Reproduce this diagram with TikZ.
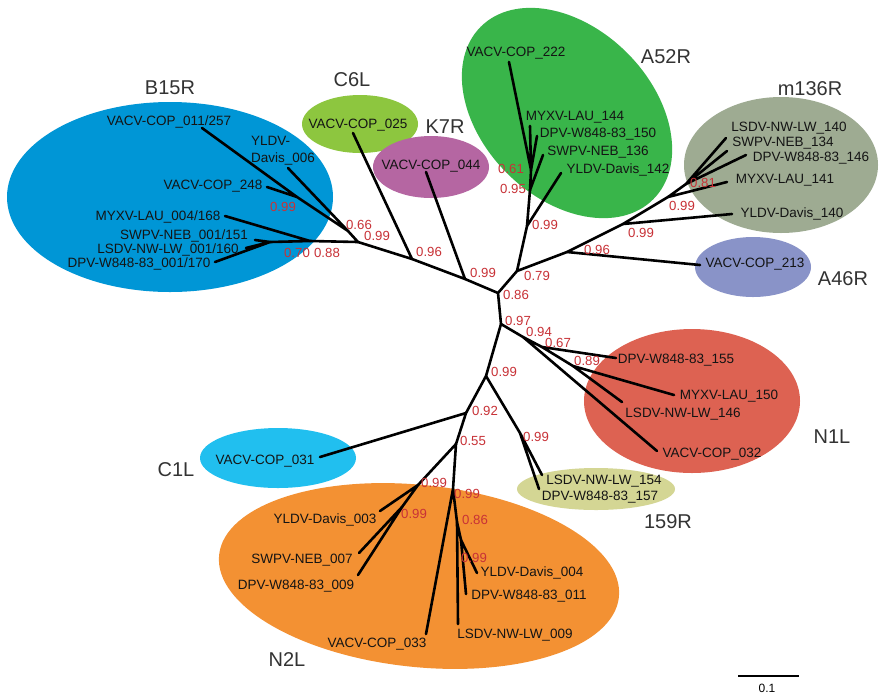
\documentclass[tikz,border=0pt]{standalone}
\usepackage{fontspec}
\setmainfont{Liberation Sans}
\definecolor{cB}{RGB}{0,150,214}
\definecolor{cC6}{RGB}{141,198,63}
\definecolor{cK7}{RGB}{181,102,162}
\definecolor{cA52}{RGB}{57,181,74}
\definecolor{cM136}{RGB}{158,171,146}
\definecolor{cA46}{RGB}{137,147,200}
\definecolor{cN1}{RGB}{221,98,82}
\definecolor{c159}{RGB}{212,214,148}
\definecolor{cC1}{RGB}{33,191,239}
\definecolor{cN2}{RGB}{243,145,51}
\definecolor{supred}{RGB}{200,50,55}
\tikzset{
  br/.style={line width=2.6pt, line cap=round, black},
  leaf/.style={inner sep=0pt, font=\fontsize{13.5}{15}\selectfont, text=black!92, text height=9.7pt, text depth=0pt},
  bsup/.style={inner sep=0pt, font=\fontsize{13.2}{14}\selectfont, text=supred, text height=9.4pt, text depth=0pt},
  clab/.style={inner sep=0pt, font=\fontsize{20}{22}\selectfont, text=black!80, text height=14.3pt, text depth=0pt},
}
\begin{document}
\begin{tikzpicture}[x=1pt,y=-1pt]
\useasboundingbox[fill=white] (0,0) rectangle (885,694);
% ellipses
\fill[cB] (170,197) ellipse [x radius=163pt, y radius=95pt];
\fill[cC6] (360,124) ellipse [x radius=58pt, y radius=29pt];
\fill[cK7] (431,167) ellipse [x radius=58pt, y radius=31pt];
\fill[cA52, rotate around={-45:(567,113)}] (567,113) ellipse [x radius=122pt, y radius=85pt];
\fill[cM136] (781,165) ellipse [x radius=97pt, y radius=68pt];
\fill[cA46] (753,267) ellipse [x radius=58pt, y radius=30pt];
\fill[cN1] (692,401) ellipse [x radius=108pt, y radius=72pt];
\fill[c159] (596,489) ellipse [x radius=79pt, y radius=21pt];
\fill[cC1] (278,458) ellipse [x radius=78pt, y radius=30pt];
\fill[cN2, rotate around={-6:(419,576)}] (419,576) ellipse [x radius=201pt, y radius=91pt];
% internal nodes
\coordinate (A) at (498,293);
\coordinate (B) at (501,324);
\coordinate (C) at (517,271);
\coordinate (D) at (527,226);
\coordinate (E) at (465,279);
\coordinate (F) at (412,259);
\coordinate (G) at (358,242);
\coordinate (H) at (348,231);
\coordinate (I) at (297,197);
\coordinate (J) at (310,241);
\coordinate (K) at (270,242);
\coordinate (L) at (531,170);
\coordinate (M) at (530,190);
\coordinate (Q) at (567,252);
\coordinate (P) at (623,224);
\coordinate (O) at (668,197);
\coordinate (N) at (686,184);
\coordinate (S) at (523,337);
\coordinate (T) at (542,347);
\coordinate (U) at (573,366);
\coordinate (R) at (486,376);
\coordinate (W) at (520,433);
\coordinate (V) at (466,413);
\coordinate (X) at (456,444);
\coordinate (Y) at (418,485);
\coordinate (Y2) at (402,507);
\coordinate (Z) at (453,489);
\coordinate (Z2) at (457,522);
\coordinate (Z3) at (461,540);
% tips
\coordinate (b1) at (202,128);
\coordinate (b2) at (288,168);
\coordinate (b3) at (267,187);
\coordinate (b4) at (225,216);
\coordinate (b5) at (255,240);
\coordinate (b6) at (246,248);
\coordinate (b7) at (215,262);
\coordinate (c6) at (353,133);
\coordinate (k7) at (426,172);
\coordinate (a1) at (509,62);
\coordinate (a2) at (530,126);
\coordinate (a3) at (537,136);
\coordinate (a4) at (543,155);
\coordinate (a5) at (561,173);
\coordinate (m1) at (726,138);
\coordinate (m2) at (727,151);
\coordinate (m3) at (746,155);
\coordinate (m4) at (727,182);
\coordinate (m5) at (732,214);
\coordinate (a46) at (700,265);
\coordinate (n1) at (616,358);
\coordinate (n2) at (674,395);
\coordinate (n3) at (622,402);
\coordinate (n4) at (657,451);
\coordinate (r1) at (542,475);
\coordinate (r2) at (539,489);
\coordinate (c1) at (320,457);
\coordinate (o1) at (380,511);
\coordinate (o2) at (359,553);
\coordinate (o3) at (358,575);
\coordinate (o4) at (426,634);
\coordinate (o5) at (458,624);
\coordinate (o6) at (477,573);
\coordinate (o7) at (466,594);
% branches
\draw[br] (A)--(B) (A)--(C) (A)--(E);
\draw[br] (E)--(F) (E)--(k7);
\draw[br] (F)--(G) (F)--(c6);
\draw[br] (G)--(H) (G)--(J);
\draw[br] (H)--(I) (H)--(b2);
\draw[br] (I)--(b1) (I)--(b3);
\draw[br] (J)--(b4) (J)--(K);
\draw[br] (K)--(b5) (K)--(b6) (K)--(b7);
\draw[br] (C)--(D) (C)--(Q);
\draw[br] (D)--(M) (D)--(a5);
\draw[br] (M)--(L) (M)--(a4);
\draw[br] (L)--(a1) (L)--(a2) (L)--(a3);
\draw[br] (Q)--(P) (Q)--(a46);
\draw[br] (P)--(O) (P)--(m5);
\draw[br] (O)--(N) (O)--(m4);
\draw[br] (N)--(m1) (N)--(m2) (N)--(m3);
\draw[br] (B)--(S) (B)--(R);
\draw[br] (S)--(n4) (S)--(T);
\draw[br] (T)--(n1) (T)--(U);
\draw[br] (U)--(n2) (U)--(n3);
\draw[br] (R)--(V) (R)--(W);
\draw[br] (W)--(r1) (W)--(r2);
\draw[br] (V)--(c1) (V)--(X);
\draw[br] (X)--(Y) (X)--(Z);
\draw[br] (Y)--(o1) (Y)--(Y2);
\draw[br] (Y2)--(o2) (Y2)--(o3);
\draw[br] (Z)--(o4) (Z)--(Z2);
\draw[br] (Z2)--(o5) (Z2)--(Z3);
\draw[br] (Z3)--(o6) (Z3)--(o7);
% leaf labels
\node[leaf] (tb1) at (169,121) {VACV-COP\_011/257};
\node[leaf, anchor=west] (tb2a) at (251,141) {YLDV-};
\node[leaf, anchor=west] (tb2b) at (251,158) {Davis\_006};
\node[leaf] (tb3) at (213,185) {VACV-COP\_248};
\node[leaf] (tb4) at (158,216) {MYXV-LAU\_004/168};
\node[leaf] (tb5) at (184,235) {SWPV-NEB\_001/151};
\node[leaf] (tb6) at (168,249) {LSDV-NW-LW\_001/160};
\node[leaf] (tb7) at (139,263) {DPV-W848-83\_001/170};
\node[leaf] (tc6) at (358,124) {VACV-COP\_025};
\node[leaf] (tk7) at (431,165) {VACV-COP\_044};
\node[leaf] (ta1) at (516,52) {VACV-COP\_222};
\node[leaf] (ta2) at (575,116) {MYXV-LAU\_144};
\node[leaf] (ta3) at (598,133) {DPV-W848-83\_150};
\node[leaf] (ta4) at (598,151) {SWPV-NEB\_136};
\node[leaf] (ta5) at (618,169) {YLDV-Davis\_142};
\node[leaf] (tm1) at (789,127) {LSDV-NW-LW\_140};
\node[leaf] (tm2) at (783,142) {SWPV-NEB\_134};
\node[leaf] (tm3) at (811,157) {DPV-W848-83\_146};
\node[leaf] (tm4) at (785,179) {MYXV-LAU\_141};
\node[leaf] (tm5) at (792,213) {YLDV-Davis\_140};
\node[leaf] (ta46) at (755,263) {VACV-COP\_213};
\node[leaf] (tn1) at (676,359) {DPV-W848-83\_155};
\node[leaf] (tn2) at (729,395) {MYXV-LAU\_150};
\node[leaf] (tn3) at (683,413) {LSDV-NW-LW\_146};
\node[leaf] (tn4) at (712,453) {VACV-COP\_032};
\node[leaf] (tr1) at (604,480) {LSDV-NW-LW\_154};
\node[leaf] (tr2) at (600,496) {DPV-W848-83\_157};
\node[leaf] (tc1) at (265,460) {VACV-COP\_031};
\node[leaf] (to1) at (325,519) {YLDV-Davis\_003};
\node[leaf] (to2) at (302,559) {SWPV-NEB\_007};
\node[leaf] (to3) at (296,585) {DPV-W848-83\_009};
\node[leaf] (to4) at (377,643) {VACV-COP\_033};
\node[leaf] (to5) at (515,634) {LSDV-NW-LW\_009};
\node[leaf] (to6) at (532,572) {YLDV-Davis\_004};
\node[leaf] (to7) at (529,595) {DPV-W848-83\_011};
% support values
\node[bsup] (sI) at (283,207) {0.99};
\node[bsup] (sH) at (359,225) {0.66};
\node[bsup] (sG) at (377,236) {0.99};
\node[bsup] (sK) at (297,253) {0.70};
\node[bsup] (sJ) at (327,253) {0.88};
\node[bsup] (sF) at (429,252) {0.96};
\node[bsup] (sE) at (483,273) {0.99};
\node[bsup] (sA) at (516,295) {0.86};
\node[bsup] (sC) at (537,276) {0.79};
\node[bsup] (sD) at (545,225) {0.99};
\node[bsup] (sL) at (511,169) {0.61};
\node[bsup] (sM) at (513,189) {0.95};
\node[bsup] (sQ) at (597,250) {0.96};
\node[bsup] (sP) at (641,233) {0.99};
\node[bsup] (sO) at (682,206) {0.99};
\node[bsup] (sN) at (703,183) {0.81};
\node[bsup] (sB) at (518,321) {0.97};
\node[bsup] (sS) at (539,332) {0.94};
\node[bsup] (sT) at (558,343) {0.67};
\node[bsup] (sU) at (587,361) {0.89};
\node[bsup] (sR) at (504,372) {0.99};
\node[bsup] (sW) at (536,437) {0.99};
\node[bsup] (sV) at (485,411) {0.92};
\node[bsup] (sX) at (473,441) {0.55};
\node[bsup] (sY) at (434,483) {0.99};
\node[bsup] (sY2) at (414,514) {0.99};
\node[bsup] (sZ) at (467,494) {0.99};
\node[bsup] (sZ2) at (475,520) {0.86};
\node[bsup] (sZ3) at (474,558) {0.99};
% cluster labels
\node[clab] (lB15R) at (170,87) {B15R};
\node[clab] (lC6L) at (352,79) {C6L};
\node[clab] (lK7R) at (445,126) {K7R};
\node[clab] (lA52R) at (666,56) {A52R};
\node[clab] (lm136R) at (810,88) {m136R};
\node[clab] (lA46R) at (843,278) {A46R};
\node[clab] (lN1L) at (832,436) {N1L};
\node[clab] (l159R) at (668,521) {159R};
\node[clab] (lC1L) at (176,469) {C1L};
\node[clab] (lN2L) at (287,659) {N2L};
% scale bar
\coordinate (sb1) at (738,676);
\coordinate (sb2) at (799,676);
\draw[line width=2.2pt] (sb1)--(sb2);
\node[inner sep=0pt, font=\fontsize{12}{13}\selectfont, text height=8.6pt, text depth=0pt] (sbl) at (767,688) {0.1};
\end{tikzpicture}
\end{document}
